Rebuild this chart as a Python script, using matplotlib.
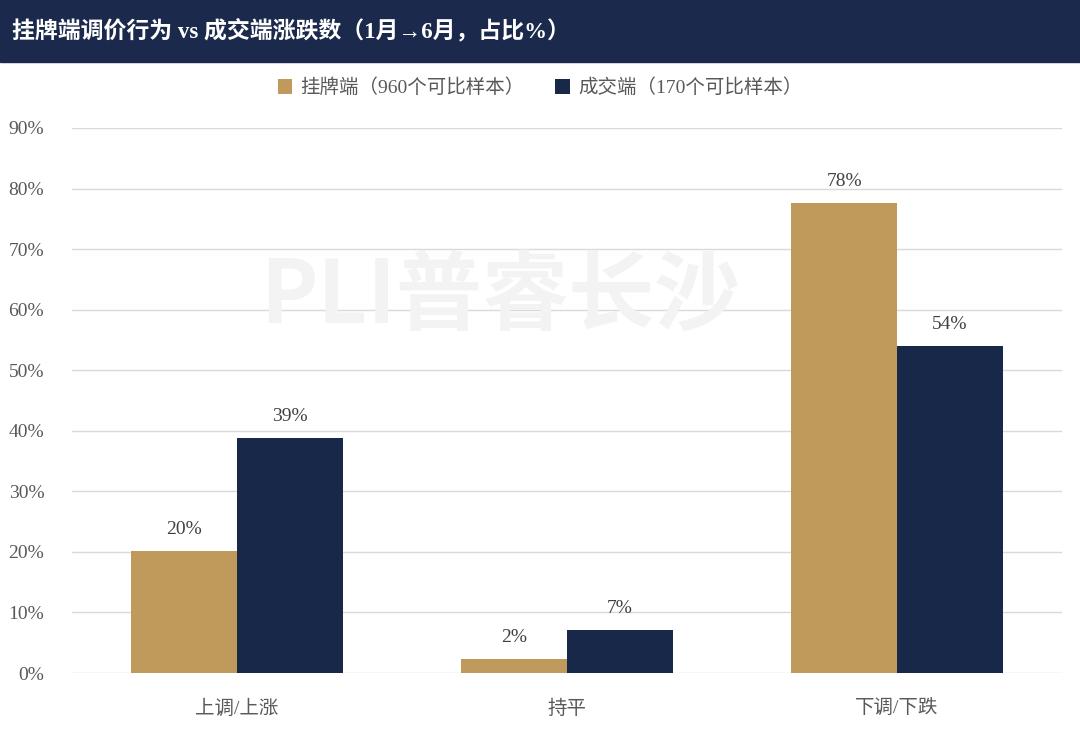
import matplotlib.pyplot as plt
from matplotlib.patches import Rectangle
import numpy as np

categories = ['上调/上涨', '持平', '下调/下跌']
listing_pct = [20.1, 2.3, 77.6]
deal_pct = [38.8, 7.1, 54.0]
listing_name = '挂牌端（960个可比样本）'
deal_name = '成交端（170个可比样本）'
title = '挂牌端调价行为 vs 成交端涨跌数（1月→6月，占比%）'

gold = '#C09A5B'
navy = '#172849'
grey = '#595959'

plt.rcParams['font.family'] = ['Liberation Serif', 'Noto Sans CJK SC', 'DejaVu Sans']

fig = plt.figure(figsize=(10.8, 7.33), dpi=100)

# title bar
fig.patches.append(Rectangle((0, 1 - 62 / 733), 1, 62 / 733, transform=fig.transFigure,
                             color='#1B2A4C', zorder=0))
fig.text(12 / 1080, 1 - 31 / 733, title, color='white', fontsize=16.5, fontweight='bold',
         va='center', ha='left', family=['Liberation Serif', 'Noto Sans CJK SC'])

ax = fig.add_axes([72 / 1080, 1 - 673 / 733, 990 / 1080, 545 / 733])

x = np.arange(len(categories))
w = 0.32
b1 = ax.bar(x - w / 2, listing_pct, w, color=gold, zorder=2, label=listing_name)
b2 = ax.bar(x + w / 2, deal_pct, w, color=navy, zorder=2, label=deal_name)

for bars, vals in ((b1, listing_pct), (b2, deal_pct)):
    for r, v in zip(bars, vals):
        ax.text(r.get_x() + r.get_width() / 2, v + 2.2, f'{round(v):.0f}%', ha='center',
                va='bottom', fontsize=14, color='#404040')

ax.set_xlim(-0.5, 2.5)
ax.set_ylim(0, 90)
ax.set_yticks(range(0, 91, 10))
ax.set_yticklabels([f'{t}%' for t in range(0, 91, 10)])
ax.set_xticks(x)
ax.set_xticklabels(categories)
ax.tick_params(axis='both', length=0, labelsize=14, colors=grey)
ax.tick_params(axis='y', pad=20)
ax.tick_params(axis='x', pad=19)
ax.grid(axis='y', color='#D9D9D9', linewidth=1, zorder=0.5)
for s in ax.spines.values():
    s.set_visible(False)

# watermark
fig.text(500 / 1080, 1 - 297 / 733, 'PLI普睿长沙', fontsize=62, fontweight='bold',
         style='italic', color='#F3F3F3', ha='center', va='center', zorder=0.2,
         family=['Noto Sans CJK SC'])
ax.patch.set_alpha(0)

fig.legend(handles=[b1, b2], loc='center', bbox_to_anchor=(0.5, 1 - 88 / 733), ncol=2,
           frameon=False, fontsize=14, handlelength=0.75, handleheight=0.75,
           handletextpad=0.4, columnspacing=1.6, labelcolor=grey)

fig.savefig('out.png', dpi=100, facecolor='white')
